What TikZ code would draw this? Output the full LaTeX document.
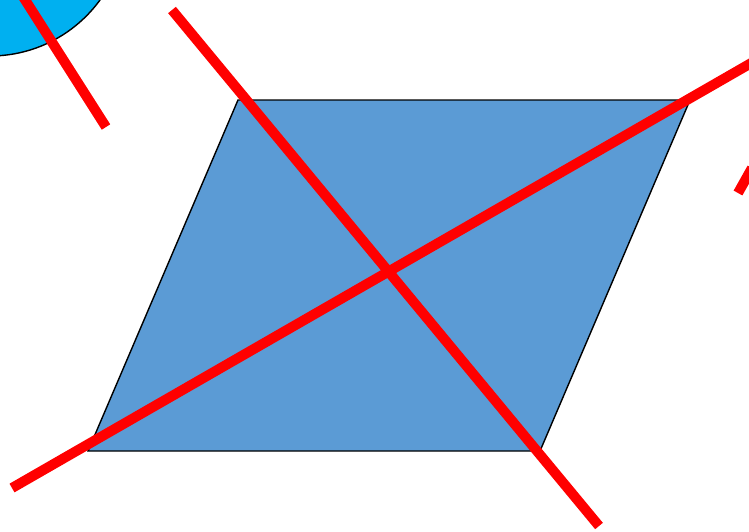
\documentclass[tikz,border=0pt]{standalone}
\usepackage{tikz}
\usetikzlibrary{calc}
\definecolor{shapeblue}{RGB}{91, 155, 213}
\definecolor{circlecyan}{RGB}{0, 176, 240}
\definecolor{strokered}{RGB}{255, 0, 0}

\begin{document}
\begin{tikzpicture}[x=0.02cm, y=-0.02cm]
    \useasboundingbox (0,0) rectangle (749,531);
    \clip (0,0) rectangle (749,531);
    % === Circle (top-left corner) ===
    \filldraw[fill=circlecyan, draw=black, line width=0.8pt] (-10,-80) circle (136);
    % === Parallelogram ===
    \coordinate (tl) at (238,100);
    \coordinate (tr) at (690,100);
    \coordinate (br) at (540,451);
    \coordinate (bl) at (88,451);
    \filldraw[fill=shapeblue, draw=black, line width=0.8pt] (tl) -- (tr) -- (br) -- (bl) -- cycle;
    % === Red strokes ===
    \draw[strokered, line width=5.7pt] (22,-5) -- (106,127);
    \draw[strokered, line width=5.7pt] (172,10) -- (599,526);
    \draw[strokered, line width=5.7pt] (12,488) -- (760,58);
    \draw[strokered, line width=5.7pt] (738,193) -- (752,168);
\end{tikzpicture}
\end{document}
